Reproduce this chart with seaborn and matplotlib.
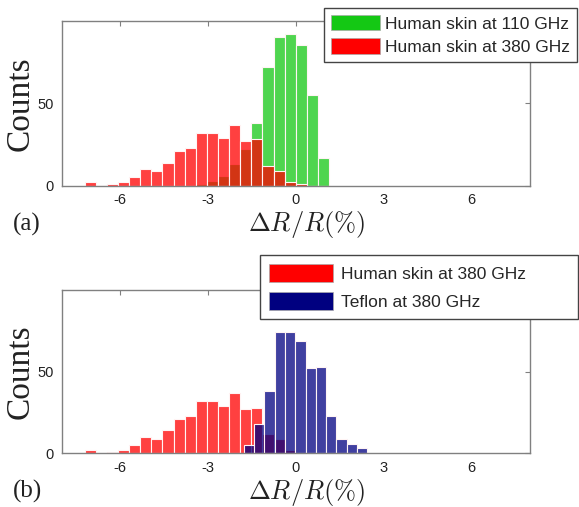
import numpy as np
import pandas as pd
import matplotlib
matplotlib.use("Agg")
import matplotlib.pyplot as plt
import seaborn as sns
from matplotlib.patches import Patch

# ---------------- data ----------------
skin_bin_start = -7.22
skin_bin_width = 0.38
skin380_counts = [2, 0, 1, 2, 5, 10, 9, 14, 21, 23, 32, 32, 29, 37, 27, 28, 12, 9, 2, 1, 0, 0]
skin110_counts = [0, 0, 0, 0, 0, 0, 0, 0, 0, 0, 1, 3, 6, 13, 22, 38, 72, 90, 92, 85, 55, 17]

teflon_bin_start = -1.78
teflon_bin_width = 0.352
teflon380_counts = [5, 18, 38, 74, 74, 69, 52, 53, 23, 9, 6, 3]

x_ticks = [-6, -3, 0, 3, 6]
y_ticks = [0, 50]
x_limits = (-8, 8)
y_limits = (0, 100)
x_label = r"$\Delta R/R(\%)$"
y_label = "Counts"
panel_labels = ["(a)", "(b)"]
legend_top = ["Human skin at 110 GHz", "Human skin at 380 GHz"]
legend_bottom = ["Human skin at 380 GHz", "Teflon at 380 GHz"]

green = "#14c814"
red = "#ff0000"
navy = "#000080"

# ---------------- style ----------------
sns.set_style("white")
plt.rcParams["font.family"] = ["Liberation Sans", "DejaVu Sans"]
plt.rcParams["mathtext.fontset"] = "cm"

W, H = 579, 507
fig = plt.figure(figsize=(W / 100, H / 100), dpi=100)


def edges(start, width, n):
    return [float(start + width * i) for i in range(n + 1)]


def table(start, width, counts):
    e = edges(start, width, len(counts))
    c = [(e[i] + e[i + 1]) / 2 for i in range(len(counts))]
    return pd.DataFrame({"center": c, "count": counts}), e


skin110_df, skin_edges = table(skin_bin_start, skin_bin_width, skin110_counts)
skin380_df, _ = table(skin_bin_start, skin_bin_width, skin380_counts)
teflon_df, teflon_edges = table(teflon_bin_start, teflon_bin_width, teflon380_counts)

ax1 = fig.add_axes([61.7 / W, 1 - 185.7 / H, (530 - 61.7) / W, 165 / H])
ax2 = fig.add_axes([61.7 / W, 1 - 453.3 / H, (530 - 61.7) / W, 163.3 / H])

bar_kw = dict(x="center", weights="count", alpha=0.75, edgecolor="#fff4f4",
              linewidth=0.8, stat="count")

sns.histplot(data=skin110_df, bins=skin_edges, color=green, ax=ax1, **bar_kw)
sns.histplot(data=skin380_df, bins=skin_edges, color=red, ax=ax1, **bar_kw)

sns.histplot(data=skin380_df, bins=skin_edges, color=red, ax=ax2, **bar_kw)
sns.histplot(data=teflon_df, bins=teflon_edges, color=navy, ax=ax2, **bar_kw)

for ax, plab, dy in ((ax1, panel_labels[0], 0), (ax2, panel_labels[1], 267.6)):
    ax.set_xlim(*x_limits)
    ax.set_ylim(*y_limits)
    ax.set_xticks(x_ticks)
    ax.set_yticks(y_ticks)
    ax.set_xticklabels([str(t) for t in x_ticks])
    ax.set_yticklabels([str(t) for t in y_ticks])
    ax.tick_params(direction="in", length=3.5, width=0.8, color="#808080",
                   top=True, right=True, labelsize=10.5, pad=5.5,
                   labelcolor="#222222")
    for s in ax.spines.values():
        s.set_color("#808080")
        s.set_linewidth(1.0)
    ax.set_xlabel(x_label, fontsize=19, va="center", color="#222222")
    ax.xaxis.set_label_coords((307 - 61.7) / 468.3, (185.7 - 225) / 165)
    ax.set_ylabel(y_label, fontsize=24, va="center", color="#222222",
                  family=["Liberation Serif", "DejaVu Serif"])
    ax.yaxis.set_label_coords((20 - 61.7) / 468.3, 0.5)
    fig.text(13 / W, 1 - (224 + dy) / H, plab, fontsize=18, va="center",
             ha="left", family=["Liberation Serif", "DejaVu Serif"],
             color="#222222")

# ---------------- legends ----------------
h_top = [Patch(facecolor=green, edgecolor="#aaaaaa", linewidth=0.5),
         Patch(facecolor=red, edgecolor="#aaaaaa", linewidth=0.5)]
leg1 = fig.legend(h_top, legend_top, loc="upper right",
                  bbox_to_anchor=(577 / W, 1 - 8 / H), frameon=True,
                  fancybox=False, edgecolor="#444444", framealpha=1,
                  fontsize=12.5, handlelength=2.8, handleheight=1.0,
                  handletextpad=0.3, labelspacing=0.37, borderpad=0.4,
                  borderaxespad=0)
leg1.get_frame().set_linewidth(1.0)

h_bot = [Patch(facecolor=red, edgecolor="#aaaaaa", linewidth=0.5),
         Patch(facecolor=navy, edgecolor="#aaaaaa", linewidth=0.5)]
leg2 = fig.legend(h_bot, legend_bottom, loc="upper left",
                  bbox_to_anchor=(260 / W, 1 - 322 / H, (578 - 260) / W, 67 / H),
                  mode="expand", frameon=True, fancybox=False,
                  edgecolor="#444444", framealpha=1, fontsize=12.5,
                  handlelength=3.7, handleheight=1.25, handletextpad=0.45,
                  labelspacing=0.55, borderpad=0.5, borderaxespad=0)
leg2.get_frame().set_linewidth(1.0)

fig.savefig("out.png", dpi=100)
